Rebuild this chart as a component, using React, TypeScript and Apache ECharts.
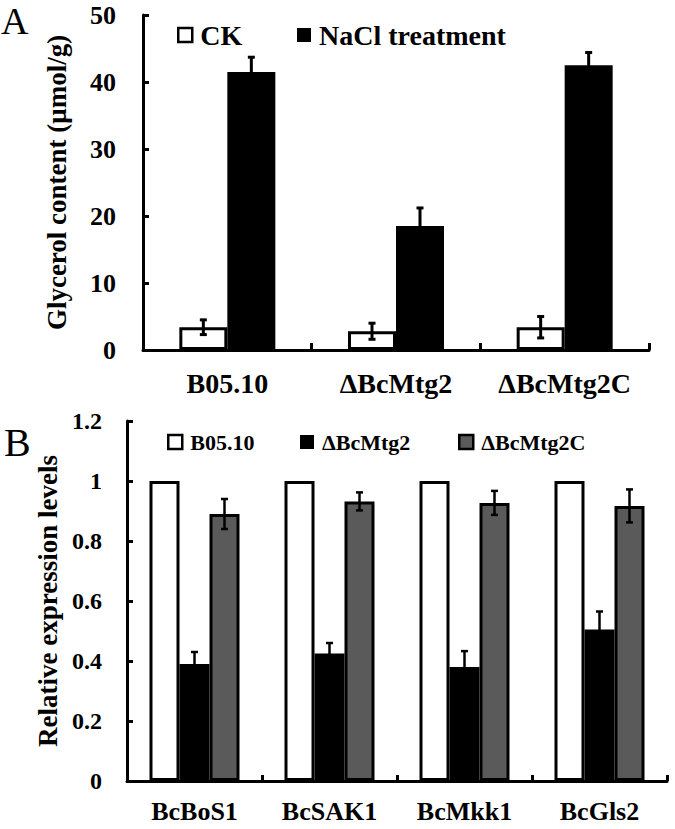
import React, { useEffect, useRef } from "react";
import * as echarts from "echarts";

// Panel A data
const strains = ["B05.10", "ΔBcMtg2", "ΔBcMtg2C"];
const ckValues = [3.4, 2.8, 3.4];
const ckErrors = [1.1, 1.2, 1.6];
const naclValues = [41.5, 18.5, 42.5];
const naclErrors = [2.2, 2.7, 1.9];

// Panel B data
const genes = ["BcBoS1", "BcSAK1", "BcMkk1", "BcGls2"];
const wtExpr = [1, 1, 1, 1];
const mutExpr = [0.39, 0.425, 0.38, 0.505];
const mutErrors = [0.04, 0.035, 0.053, 0.06];
const compExpr = [0.89, 0.932, 0.927, 0.917];
const compErrors = [0.05, 0.03, 0.04, 0.055];

const FONT = '"Liberation Serif", "Times New Roman", serif';
const BAR_A = 48;
const BAR_B = 30;

function errorRender(offset: number, cap: number, lw: number) {
  return (params: any, api: any) => {
    const x = api.value(0);
    const v = api.value(1);
    const e = api.value(2);
    const top = api.coord([x, v + e]);
    const bot = api.coord([x, v - e]);
    const cx = top[0] + offset;
    const style = { stroke: "#000", lineWidth: lw };
    return {
      type: "group",
      children: [
        { type: "line", shape: { x1: cx, y1: top[1], x2: cx, y2: bot[1] }, style },
        { type: "line", shape: { x1: cx - cap, y1: top[1], x2: cx + cap, y2: top[1] }, style },
        { type: "line", shape: { x1: cx - cap, y1: bot[1], x2: cx + cap, y2: bot[1] }, style },
      ],
    };
  };
}

export default function App() {
  const ref = useRef<HTMLDivElement>(null);
  useEffect(() => {
    if (!ref.current) return;
    const chart = echarts.init(ref.current, null, { renderer: "svg" });
    const txt = (size: number) => ({
      color: "#000",
      fontFamily: FONT,
      fontWeight: "bold" as const,
      fontSize: size,
    });
    const legendBase = (left: number, top: number, size: number) => ({
      left,
      top,
      padding: 0,
      icon: "rect",
      itemWidth: 14,
      itemHeight: 14,
      selectedMode: false,
      textStyle: { ...txt(size), padding: [0, 0, 0, 3] },
    });
    const option: any = {
      animation: false,
      backgroundColor: "#fff",
      grid: [
        { left: 143, right: 26, top: 15, height: 335 },
        { left: 127, right: 8, top: 421, height: 360 },
      ],
      legend: [
        {
          ...legendBase(177, 21, 28),
          data: [{ name: "CK", itemStyle: { color: "#fff", borderColor: "#000", borderWidth: 2.5 } }],
        },
        {
          ...legendBase(297, 21, 28),
          data: [{ name: "NaCl treatment", itemStyle: { color: "#000", borderColor: "#000", borderWidth: 0 } }],
        },
        {
          ...legendBase(167, 431, 22),
          data: [{ name: "B05.10", itemStyle: { color: "#fff", borderColor: "#000", borderWidth: 2.5 } }],
        },
        {
          ...legendBase(300, 431, 22),
          data: [{ name: "ΔBcMtg2", itemStyle: { color: "#000", borderColor: "#000", borderWidth: 0 } }],
        },
        {
          ...legendBase(458, 431, 22),
          data: [{ name: "ΔBcMtg2C", itemStyle: { color: "#5a5a5a", borderColor: "#000", borderWidth: 2.5 } }],
        },
      ],
      xAxis: [
        {
          type: "category",
          gridIndex: 0,
          data: strains,
          axisLine: { show: true, lineStyle: { color: "#000", width: 3 } },
          axisTick: { show: true, inside: true, length: 7, alignWithLabel: false, lineStyle: { color: "#000", width: 3 } },
          axisLabel: { ...txt(28), margin: 19, interval: 0 },
          splitLine: { show: false },
        },
        {
          type: "category",
          gridIndex: 1,
          data: genes,
          axisLine: { show: true, lineStyle: { color: "#000", width: 3 } },
          axisTick: { show: true, inside: true, length: 6, alignWithLabel: false, lineStyle: { color: "#000", width: 3 } },
          axisLabel: { ...txt(26), margin: 17, interval: 0 },
          splitLine: { show: false },
        },
      ],
      yAxis: [
        {
          type: "value",
          gridIndex: 0,
          min: 0,
          max: 50,
          interval: 10,
          name: "Glycerol content (μmol/g)",
          nameLocation: "middle",
          nameGap: 73,
          nameTextStyle: txt(27),
          axisLine: { show: true, lineStyle: { color: "#000", width: 3 } },
          axisTick: { show: true, inside: true, length: 6, lineStyle: { color: "#000", width: 3 } },
          axisLabel: { ...txt(26), margin: 27 },
          splitLine: { show: false },
        },
        {
          type: "value",
          gridIndex: 1,
          min: 0,
          max: 1.2,
          interval: 0.2,
          name: "Relative expression levels",
          nameLocation: "middle",
          nameGap: 66,
          nameTextStyle: txt(27),
          axisLine: { show: true, lineStyle: { color: "#000", width: 3 } },
          axisTick: { show: true, inside: true, length: 6, lineStyle: { color: "#000", width: 3 } },
          axisLabel: { ...txt(24), margin: 25 },
          splitLine: { show: false },
        },
      ],
      graphic: [
        { type: "text", left: 1, top: 2, style: { text: "A", fontFamily: FONT, fontSize: 38, fill: "#000" } },
        { type: "text", left: 4, top: 422, style: { text: "B", fontFamily: FONT, fontSize: 40, fill: "#000" } },
      ],
      series: [
        {
          name: "CK",
          type: "bar",
          xAxisIndex: 0,
          yAxisIndex: 0,
          barWidth: BAR_A,
          barGap: "0%",
          data: ckValues,
          itemStyle: { color: "#fff", borderColor: "#000", borderWidth: 3 },
        },
        {
          name: "NaCl treatment",
          type: "bar",
          xAxisIndex: 0,
          yAxisIndex: 0,
          barWidth: BAR_A,
          barGap: "0%",
          data: naclValues,
          itemStyle: { color: "#000", borderColor: "#000", borderWidth: 0 },
        },
        {
          name: "B05.10",
          type: "bar",
          xAxisIndex: 1,
          yAxisIndex: 1,
          barWidth: BAR_B,
          barGap: "0%",
          data: wtExpr,
          itemStyle: { color: "#fff", borderColor: "#000", borderWidth: 3 },
        },
        {
          name: "ΔBcMtg2",
          type: "bar",
          xAxisIndex: 1,
          yAxisIndex: 1,
          barWidth: BAR_B,
          barGap: "0%",
          data: mutExpr,
          itemStyle: { color: "#000", borderColor: "#000", borderWidth: 0 },
        },
        {
          name: "ΔBcMtg2C",
          type: "bar",
          xAxisIndex: 1,
          yAxisIndex: 1,
          barWidth: BAR_B,
          barGap: "0%",
          data: compExpr,
          itemStyle: { color: "#5a5a5a", borderColor: "#000", borderWidth: 3 },
        },
        {
          name: "errCK",
          type: "custom",
          xAxisIndex: 0,
          yAxisIndex: 0,
          z: 10,
          renderItem: errorRender(-BAR_A / 2, 3.5, 3),
          data: ckValues.map((v, i) => [i, v, ckErrors[i]]),
          encode: { x: 0, y: 1 },
        },
        {
          name: "errNaCl",
          type: "custom",
          xAxisIndex: 0,
          yAxisIndex: 0,
          z: 10,
          renderItem: errorRender(BAR_A / 2, 3.5, 3),
          data: naclValues.map((v, i) => [i, v, naclErrors[i]]),
          encode: { x: 0, y: 1 },
        },
        {
          name: "errMut",
          type: "custom",
          xAxisIndex: 1,
          yAxisIndex: 1,
          z: 10,
          renderItem: errorRender(0, 3.5, 2.5),
          data: mutExpr.map((v, i) => [i, v, mutErrors[i]]),
          encode: { x: 0, y: 1 },
        },
        {
          name: "errComp",
          type: "custom",
          xAxisIndex: 1,
          yAxisIndex: 1,
          z: 10,
          renderItem: errorRender(BAR_B, 3.5, 2.5),
          data: compExpr.map((v, i) => [i, v, compErrors[i]]),
          encode: { x: 0, y: 1 },
        },
      ],
    };
    chart.setOption(option);
    return () => chart.dispose();
  }, []);
  return (
    <div
      ref={ref}
      style={{ position: "fixed", left: 0, top: 0, width: 675, height: 829, background: "#fff" }}
    />
  );
}
